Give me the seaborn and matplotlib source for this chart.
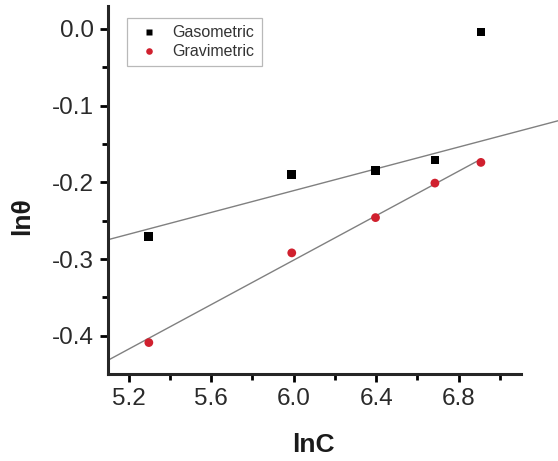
import numpy as np
import pandas as pd
import matplotlib
matplotlib.use("Agg")
import matplotlib.pyplot as plt
import seaborn as sns

# Data
lnC = [5.298, 5.991, 6.397, 6.685, 6.908]
gasometric = [-0.271, -0.190, -0.185, -0.171, -0.004]
gravimetric = [-0.409, -0.292, -0.246, -0.201, -0.174]
series_names = ["Gasometric", "Gravimetric"]
x_ticks = [5.2, 5.6, 6.0, 6.4, 6.8]
y_ticks = [0.0, -0.1, -0.2, -0.3, -0.4]

sns.set_theme(style="ticks")
plt.rcParams['font.family'] = ['Liberation Sans', 'DejaVu Sans']

fig = plt.figure(figsize=(5.58, 4.61), dpi=100, facecolor="white")
ax = fig.add_axes([108/558, 87/461, 450/558, 368/461])
ax.set_facecolor("white")

xmin, xmax = 5.1, 5.1 + 450/206.25
ymin, ymax = -0.45, 0.03
ax.set_xlim(xmin, xmax)
ax.set_ylim(ymin, ymax)

df = pd.DataFrame({
    "lnC": lnC * 2,
    "val": gasometric + gravimetric,
    "series": [series_names[0]] * len(lnC) + [series_names[1]] * len(lnC),
})

# linear fit lines
xa = np.array(lnC)
pg = np.polyfit(xa[:4], np.array(gasometric[:4]), 1)
pr = np.polyfit(xa, np.array(gravimetric), 1)
xg = np.array([xmin, xmax])
xr = np.array([xmin, xa.max()])
ax.plot(xg, np.polyval(pg, xg), color="#808080", lw=1.0, zorder=1)
ax.plot(xr, np.polyval(pr, xr), color="#808080", lw=1.0, zorder=1)

sns.scatterplot(data=df, x="lnC", y="val", hue="series", style="series",
                markers={"Gasometric": "s", "Gravimetric": "o"},
                palette={"Gasometric": "black", "Gravimetric": "#d0202e"},
                s=40, edgecolor="none", ax=ax, zorder=3, legend=True)

# legend
leg = ax.legend(loc="upper left", bbox_to_anchor=(19/450, 1 - 12/368),
                prop={"size": 11.5}, frameon=True, fancybox=False,
                edgecolor="#a8a8a8", borderpad=0.45, handletextpad=0.5,
                labelspacing=0.25, markerscale=0.75, handlelength=1.9,
                borderaxespad=0)
leg.get_frame().set_linewidth(0.9)
for t in leg.get_texts():
    t.set_color("#333333")

# spines and ticks
sns.despine(ax=ax)
ax.spines['left'].set_linewidth(2.2)
ax.spines['bottom'].set_linewidth(2.2)
ax.spines['bottom'].set_bounds(xmin, 7.1)
ax.spines['left'].set_bounds(ymin, ymax)
ax.set_xticks(x_ticks)
ax.set_yticks(y_ticks)
ax.set_xticklabels([f"{v:.1f}" for v in x_ticks])
ax.set_yticklabels([f"{v:.1f}" for v in y_ticks])
ax.set_xticks([5.4, 5.8, 6.2, 6.6, 7.0], minor=True)
ax.set_yticks([-0.05, -0.15, -0.25, -0.35], minor=True)
ax.tick_params(axis="both", which="major", direction="out", length=6, width=2,
               labelsize=17.5, color="black", labelcolor="#2a2a2a", pad=4)
ax.tick_params(axis="both", which="minor", direction="out", length=4, width=2,
               color="black")

ax.set_xlabel("lnC", fontsize=19, fontweight="bold", color="#1a1a1a")
ax.set_ylabel("lnθ", fontsize=19, fontweight="bold", color="#1a1a1a")
ax.xaxis.set_label_coords((313 - 108) / 450, -(433 - 374) / 368)
ax.yaxis.set_label_coords(-(108 - 34) / 450, (374 - 216) / 368)
ax.grid(False)

fig.savefig("out.png", dpi=100, facecolor="white")
